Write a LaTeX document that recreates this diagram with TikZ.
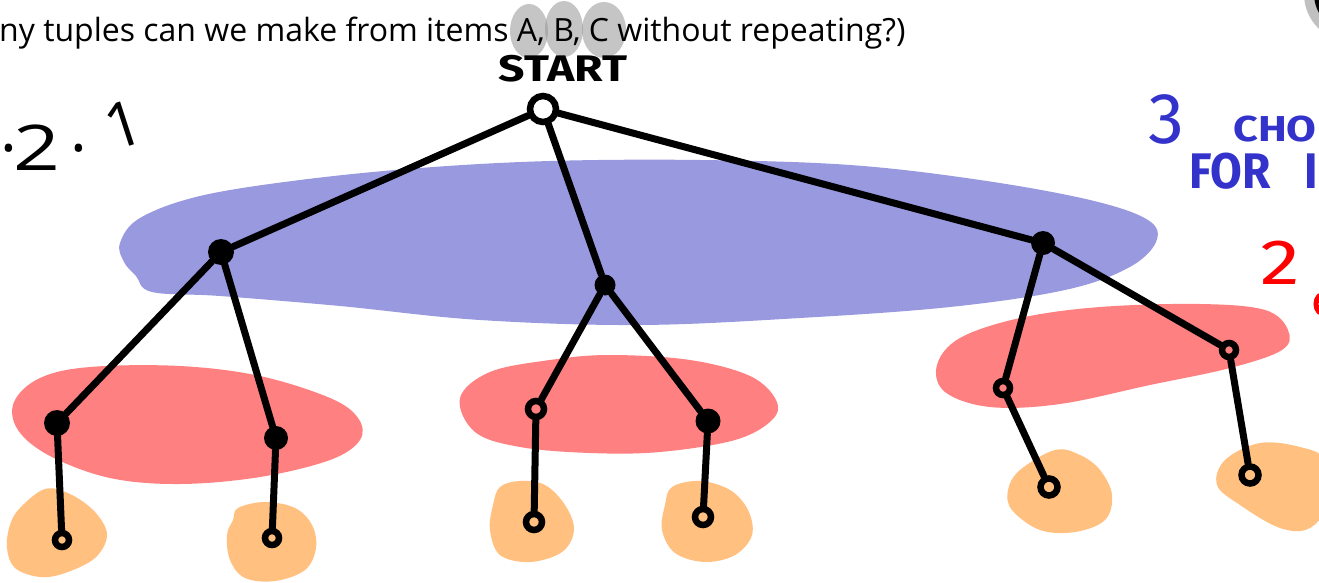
\documentclass[tikz,border=0pt]{standalone}
\usepackage{fontspec}
\setmainfont{Open Sans}
\newfontfamily\hand{Fira Sans}
\definecolor{blueblob}{RGB}{153,153,224}
\definecolor{redblob}{RGB}{255,128,128}
\definecolor{orangeblob}{RGB}{255,192,128}
\definecolor{penblue}{RGB}{51,51,204}
\definecolor{penred}{RGB}{255,0,0}
\definecolor{hlgray}{RGB}{150,150,150}
\tikzset{
  dotf/.style={circle, fill=black, inner sep=0pt, minimum size=#1},
  dotf/.default=24pt,
  doto/.style={circle, draw=black, line width=6.5pt, inner sep=0pt, minimum size=#1},
  doto/.default=16pt,
  link/.style={line width=7pt, line cap=round},
  blob/.style={fill=#1, draw=none},
  hl/.style={fill=hlgray, opacity=0.55, draw=none},
  handtext/.style={font=\hand\bfseries, inner sep=0pt},
}
\begin{document}
\begin{tikzpicture}[x=1pt,y=-1pt]
\useasboundingbox (0,0) rectangle (1319,583);
\fill[white] (0,0) rectangle (1319,583);

% ---- blobs ----
\path[blob=blueblob] plot[smooth cycle, tension=0.6] coordinates {
 (120,243) (140,218) (200,196) (300,180) (420,168) (550,161) (700,160)
 (850,165) (980,180) (1090,200) (1148,220) (1156,242) (1128,268) (1065,290)
 (950,307) (800,318) (640,325) (480,320) (340,306) (220,296) (152,292)
 (136,276) (124,262)};

\path[blob=redblob] plot[smooth cycle, tension=0.6] coordinates {
 (14,402) (40,378) (90,367) (180,366) (260,376) (330,398) (358,418)
 (360,440) (330,460) (260,477) (180,484) (110,478) (50,456) (18,430)};
\path[blob=redblob] plot[smooth cycle, tension=0.6] coordinates {
 (460,398) (490,372) (550,360) (610,355) (690,360) (750,376) (776,400)
 (772,420) (735,440) (660,452) (590,453) (520,447) (475,432)};
\path[blob=redblob] plot[smooth cycle, tension=0.6] coordinates {
 (937,365) (960,338) (1020,318) (1100,307) (1200,304) (1265,310) (1288,330)
 (1282,350) (1230,368) (1150,385) (1060,404) (990,407) (945,392)};

\path[blob=orangeblob] plot[smooth cycle, tension=0.6] coordinates {
 (20,508) (45,489) (70,494) (95,512) (107,535) (95,558) (65,573) (40,577)
 (15,568) (7,548) (10,525)};
\path[blob=orangeblob] plot[smooth cycle, tension=0.6] coordinates {
 (238,508) (265,502) (295,508) (312,525) (316,548) (305,570) (275,581)
 (245,578) (230,560) (227,535) (233,520)};
\path[blob=orangeblob] plot[smooth cycle, tension=0.6] coordinates {
 (500,487) (520,481) (545,485) (565,505) (574,530) (562,552) (530,562)
 (500,555) (490,530) (493,505)};
\path[blob=orangeblob] plot[smooth cycle, tension=0.6] coordinates {
 (672,487) (700,481) (730,490) (748,510) (752,535) (735,555) (705,562)
 (675,553) (662,530) (665,505)};
\path[blob=orangeblob] plot[smooth cycle, tension=0.6] coordinates {
 (1020,470) (1055,450) (1080,455) (1100,470) (1112,495) (1105,520)
 (1075,532) (1040,530) (1012,510) (1008,490)};
\path[blob=orangeblob] plot[smooth cycle, tension=0.6] coordinates {
 (1225,460) (1260,443) (1300,447) (1325,460) (1330,500) (1310,528)
 (1280,528) (1240,505) (1217,485)};

% ---- highlight behind A, B, C ----
\path[hl] (529,31) ellipse [x radius=19, y radius=27];
\path[hl] (564,29) ellipse [x radius=19, y radius=28];
\path[hl] (604,30) ellipse [x radius=22, y radius=28];

% ---- question text ----
\node[anchor=base west, inner sep=0pt, font=\fontsize{32}{36}\selectfont] (q) at (-1,42)
  {ny tuples can we make from items A, B, C without repeating?)};

% ---- top-right tool icon ----
\fill[hlgray!60] (1352,-6) circle (48);
\fill[black] (1352,-6) circle (38);

% ---- handwritten labels ----
\node[handtext, anchor=base, font=\hand\bfseries\fontsize{37}{37}\selectfont, xscale=1.25] (start) at (563,82) {START};
\node[anchor=base west, inner sep=0pt, font=\fontsize{63}{63}\selectfont] (prod) at (0,170)
  {·\hspace{-3pt}\scalebox{1.3}[1]{2}\hspace{10pt}·\hspace{12pt}\raisebox{18pt}{\rotatebox{18}{1}}};
\node[anchor=base west, inner sep=0pt, text=penblue, font=\hand\fontsize{72}{72}\selectfont] (three) at (1148,143) {3};
\node[handtext, anchor=base west, text=penblue, font=\hand\bfseries\fontsize{36}{36}\selectfont, xscale=1.2] (cho) at (1233,142) {CHO};
\node[handtext, anchor=base west, text=penblue, font=\hand\bfseries\fontsize{50}{50}\selectfont, xscale=0.92] (for) at (1189,188) {FOR\hspace{37pt}I};
\node[anchor=base west, inner sep=0pt, text=penred, font=\hand\fontsize{64}{64}\selectfont, xscale=1.25] (two) at (1260,284) {2};
\draw[penred, line width=5pt, line cap=round] (1319,296) .. controls (1315,300) and (1315,308) .. (1319,312);

% ---- tree nodes ----
\node[doto=26pt] (s) at (543,109) {};
\node[dotf=26pt] (a) at (221,252) {};
\node[dotf=21pt] (b) at (605,285) {};
\node[dotf=24pt] (c) at (1043,243) {};
\node[dotf=26pt] (a1) at (57,423) {};
\node[dotf=24pt] (a2) at (276,438) {};
\node[doto=16pt] (b1) at (536,409) {};
\node[dotf=25pt] (b2) at (708,421) {};
\node[doto=14pt] (c1) at (1003,388) {};
\node[doto=14pt] (c2) at (1229,350) {};
\node[doto=14pt] (a1a) at (62,540) {};
\node[doto=14pt] (a2a) at (272,538) {};
\node[doto=16pt] (b1a) at (534,522) {};
\node[doto=16pt] (b2a) at (703,517) {};
\node[doto=17pt] (c1a) at (1049,487) {};
\node[doto=17pt] (c2a) at (1250,475) {};

% ---- tree edges ----
\draw[link] (s) -- (a);
\draw[link] (s) -- (b);
\draw[link] (s) -- (c);
\draw[link] (a) -- (a1);
\draw[link] (a) -- (a2);
\draw[link] (b) -- (b1);
\draw[link] (b) -- (b2);
\draw[link] (c) -- (c1);
\draw[link] (c) -- (c2);
\draw[link] (a1) -- (a1a);
\draw[link] (a2) -- (a2a);
\draw[link] (b1) -- (b1a);
\draw[link] (b2) -- (b2a);
\draw[link] (c1) -- (c1a);
\draw[link] (c2) -- (c2a);
\end{tikzpicture}
\end{document}
